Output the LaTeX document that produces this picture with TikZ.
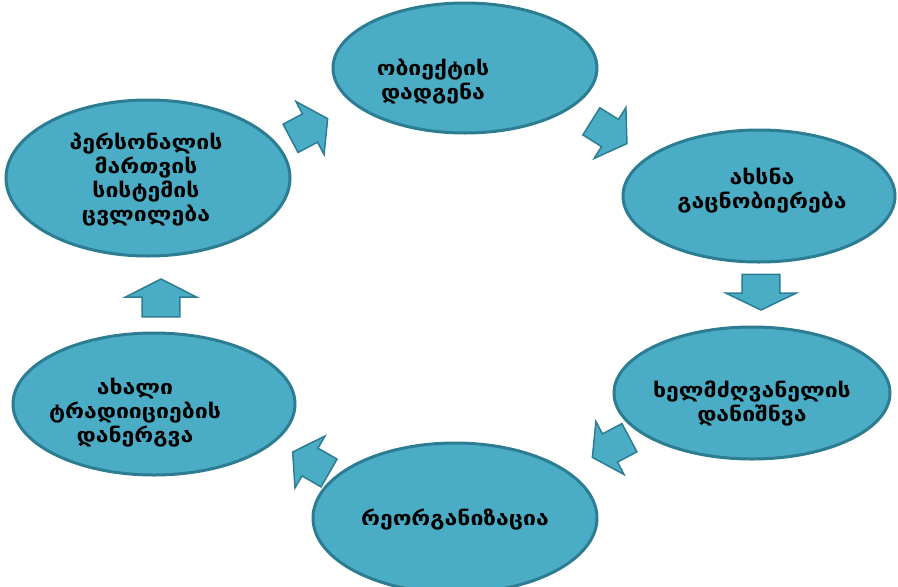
\documentclass[tikz,border=0pt]{standalone}
\usepackage{fontspec}
\newfontfamily\geofont[FakeStretch=1.15]{DejaVu Sans}
\usetikzlibrary{shapes.geometric}
\definecolor{cyclefill}{RGB}{75,172,198}
\definecolor{cycleline}{RGB}{44,124,146}
\tikzset{
  bubble/.style={ellipse, draw=cycleline, line width=3pt, fill=cyclefill, inner sep=0pt},
  caption/.style={align=center, inner sep=0pt, font=\geofont\bfseries\fontsize{20}{24}\selectfont},
  turn/.style={draw=cycleline, line width=1.5pt, fill=cyclefill, line join=miter}
}
\newcommand{\cyclearrow}[3][]{%
  \filldraw[turn, shift={(#2)}, rotate=#3, #1] (-22,16) -- (0,16) -- (0,30) -- (20,0) -- (0,-30) -- (0,-16) -- (-22,-16) -- cycle;}
\begin{document}
\begin{tikzpicture}[x=1pt, y=-1pt]
    \useasboundingbox (0,0) rectangle (898,587);
    \clip (0,0) rectangle (898,587);
    \node[bubble, minimum width=264pt, minimum height=130pt] (object) at (465,68) {};
    \node[bubble, minimum width=272pt, minimum height=132pt] (explain) at (759,196) {};
    \node[bubble, minimum width=276pt, minimum height=132pt] (leader) at (752,393) {};
    \node[bubble, minimum width=284pt, minimum height=150pt] (reorg) at (455,518) {};
    \node[bubble, minimum width=282pt, minimum height=142pt] (tradition) at (154,404) {};
    \node[bubble, minimum width=284pt, minimum height=156pt] (staff) at (148,178) {};
    \node[caption] (objecttext) at (433,82) {ობიექტის\\დადგენა};
    \node[caption] (explaintext) at (762,191) {ახსნა\\გაცნობიერება};
    \node[caption] (leadertext) at (752,404) {ხელმძღვანელის\\დანიშნვა};
    \node[caption] (reorgtext) at (455,520) {რეორგანიზაცია};
    \node[caption] (traditiontext) at (135,413) {ახალი\\ტრადიიციების\\დანერგვა};
    \node[caption] (stafftext) at (146,180) {პერსონალის\\მართვის\\სისტემის\\ცვლილება};
    \cyclearrow{310,128}{28}
    \cyclearrow{610,133}{-32}
    \cyclearrow[xscale=0.85, yscale=1.18]{761,293}{-90}
    \cyclearrow{610,448}{-152}
    \cyclearrow{310,462}{150}
    \cyclearrow[xscale=0.9, yscale=1.18]{161,297}{90}
\end{tikzpicture}
\end{document}
